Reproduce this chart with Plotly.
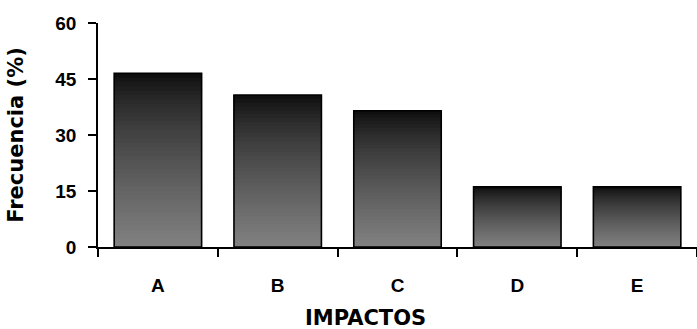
import plotly.graph_objects as go

categories = ["A", "B", "C", "D", "E"]
frecuencia = [46.5, 40.7, 36.5, 16.1, 16.1]
y_ticks = [0, 15, 30, 45, 60]

N_STEPS = 40
fig = go.Figure()

# vertical gradient: each later trace covers the upper part of the bar with a darker grey
for k in range(N_STEPS):
    f = k / N_STEPS
    g = int(round(6 + 122 * (1 - f) ** 0.7))
    base = [v * f for v in frecuencia]
    heights = [v - b for v, b in zip(frecuencia, base)]
    fig.add_trace(go.Bar(
        x=categories, y=heights, base=base,
        marker=dict(color=f"rgb({g},{g},{g})", line=dict(width=0)),
        showlegend=False, hoverinfo="skip",
    ))

# outline
fig.add_trace(go.Bar(
    x=categories, y=frecuencia,
    marker=dict(color="rgba(0,0,0,0)", line=dict(color="black", width=1.6)),
    showlegend=False,
))

tick_family = "Liberation Sans, Arial, sans-serif"
title_family = "DejaVu Sans, sans-serif"

fig.update_layout(
    width=697, height=329,
    margin=dict(l=98, r=0, t=23, b=82),
    barmode="overlay", bargap=0.27,
    plot_bgcolor="white", paper_bgcolor="white",
    font=dict(family=tick_family, color="black", size=19, weight="bold"),
    xaxis=dict(
        type="category", range=[-0.5, 4.5],
        showline=True, linecolor="black", linewidth=1.6,
        ticks="outside", tickson="boundaries", ticklen=8, tickwidth=1.6, tickcolor="black",
        ticklabelstandoff=20,
        tickfont=dict(family=tick_family, size=19, weight="bold"),
        showgrid=False, zeroline=False,
    ),
    yaxis=dict(
        range=[0, 60], tickvals=y_ticks,
        showline=True, linecolor="black", linewidth=1.6,
        ticks="outside", ticklen=8, tickwidth=1.6, tickcolor="black",
        ticklabelstandoff=8,
        tickfont=dict(family=tick_family, size=19, weight="bold"),
        showgrid=False, zeroline=False,
        title=dict(text="Frecuencia (%)", font=dict(family=title_family, size=21, weight="bold"), standoff=26),
    ),
    annotations=[dict(
        text="IMPACTOS", xref="paper", yref="paper", x=0.446, y=-0.317,
        xanchor="center", yanchor="middle", showarrow=False,
        font=dict(family=title_family, size=21, weight="bold", color="black"),
    )],
)

fig.write_html("out.html")
